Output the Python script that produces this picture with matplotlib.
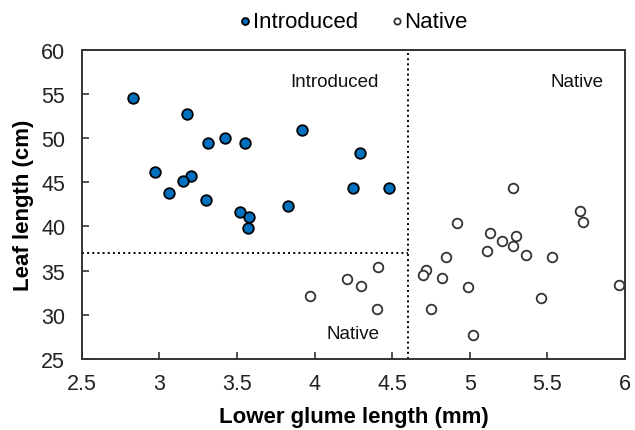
import numpy as np
import matplotlib.pyplot as plt

plt.rcParams['font.family'] = ['Liberation Sans', 'DejaVu Sans']

# introduced samples (lower glume length mm, leaf length cm)
intro_x = [2.83, 3.18, 3.31, 3.42, 3.55, 3.92, 4.29, 2.97, 3.20, 3.15,
           3.06, 3.30, 4.25, 4.48, 3.83, 3.52, 3.58, 3.57]
intro_y = [54.6, 52.7, 49.5, 50.0, 49.5, 50.9, 48.3, 46.2, 45.7, 45.2,
           43.8, 43.0, 44.4, 44.4, 42.3, 41.6, 41.1, 39.8]

# native samples
native_x = [5.28, 4.92, 5.71, 5.73, 5.13, 5.30, 5.21, 5.28, 5.11, 5.36,
            4.85, 5.53, 4.41, 4.72, 4.70, 4.21, 4.82, 4.30, 4.99, 5.96,
            3.97, 5.46, 4.40, 4.75, 5.02]
native_y = [44.4, 40.4, 41.8, 40.5, 39.3, 38.9, 38.3, 37.8, 37.2, 36.8,
            36.5, 36.5, 35.4, 35.1, 34.5, 34.1, 34.2, 33.2, 33.1, 33.4,
            32.1, 31.9, 30.6, 30.6, 27.7]

glume_cut = 4.6
leaf_cut = 37

fig = plt.figure(figsize=(6.35, 4.31), dpi=100)
ax = fig.add_axes([0.129, 0.165, 0.855, 0.717])

ax.scatter(intro_x, intro_y, s=58, color='#0070C0', edgecolor='black',
           linewidth=1.3, zorder=3, label='Introduced')
ax.scatter(native_x, native_y, s=48, color='white', edgecolor='#333333',
           linewidth=1.3, zorder=3, label='Native')

ax.plot([glume_cut, glume_cut], [25, 60], color='black', linestyle=':', linewidth=1.4)
ax.plot([2.5, glume_cut], [leaf_cut, leaf_cut], color='black', linestyle=':', linewidth=1.4)

ax.text(4.13, 56.4, 'Introduced', fontsize=13.5, ha='center', va='center', color='#111111')
ax.text(5.69, 56.4, 'Native', fontsize=13.5, ha='center', va='center', color='#111111')
ax.text(4.25, 27.9, 'Native', fontsize=13.5, ha='center', va='center', color='#111111')

ax.set_xlim(2.5, 6)
ax.set_ylim(25, 60)
ax.set_xticks(np.arange(2.5, 6.01, 0.5))
ax.set_xticklabels(['2.5', '3', '3.5', '4', '4.5', '5', '5.5', '6'])
ax.set_yticks(np.arange(25, 61, 5))
ax.tick_params(direction='in', length=5, width=1.1, labelsize=15.5, colors='#222222')
ax.tick_params(axis='x', pad=10)
ax.tick_params(axis='y', pad=12)
for sp in ax.spines.values():
    sp.set_color('#333333')
    sp.set_linewidth(1.4)

ax.set_xlabel('Lower glume length (mm)', fontsize=16, fontweight='bold', labelpad=9)
ax.set_ylabel('Leaf length (cm)', fontsize=16, fontweight='bold', labelpad=5)

fig.legend(loc='center', bbox_to_anchor=(0.555, 0.948), ncol=2, frameon=False,
           fontsize=16, markerscale=0.65, handletextpad=0.0, columnspacing=1.4,
           handlelength=0.7)

fig.savefig('out.png', dpi=100)
